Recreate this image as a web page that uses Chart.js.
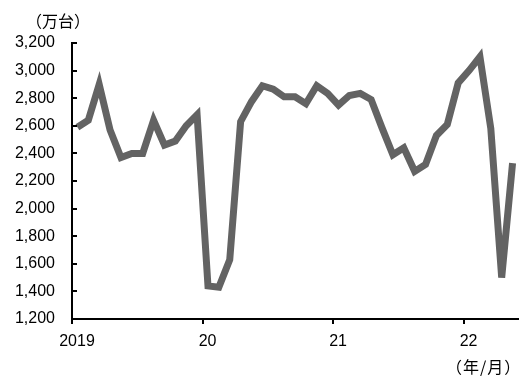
<!DOCTYPE html>
<html>
<head>
<meta charset="utf-8">
<script src="https://cdn.jsdelivr.net/npm/chart.js@4"></script>
<style>
  html, body { margin: 0; padding: 0; background: #fff; }
  #wrap { position: relative; width: 526px; height: 376px; }
  canvas { position: absolute; left: 0; top: 0; }
  .unit { position: absolute; font-family: "Noto Sans CJK JP", sans-serif; font-size: 16px; color: #000; line-height: 1; white-space: nowrap; }
</style>
</head>
<body>
<div id="wrap">
  <canvas id="c" width="526" height="376"></canvas>
  <div class="unit" style="left:26px; top:12px;">（万台）</div>
  <div class="unit" style="left:446px; top:358px; letter-spacing:1px;">（年/月）</div>
</div>
<script>
// Monthly series, Jan 2019 – May 2022
const months = [
  '2019/1','2019/2','2019/3','2019/4','2019/5','2019/6','2019/7','2019/8','2019/9','2019/10','2019/11','2019/12',
  '2020/1','2020/2','2020/3','2020/4','2020/5','2020/6','2020/7','2020/8','2020/9','2020/10','2020/11','2020/12',
  '2021/1','2021/2','2021/3','2021/4','2021/5','2021/6','2021/7','2021/8','2021/9','2021/10','2021/11','2021/12',
  '2022/1','2022/2','2022/3','2022/4','2022/5'
];
const units = [
  2590, 2640, 2900, 2570, 2370, 2400, 2400, 2640, 2460, 2490, 2600, 2680,
  1440, 1430, 1630, 2630, 2775, 2890, 2865, 2810, 2810, 2760, 2890, 2835,
  2750, 2820, 2835, 2790, 2585, 2390, 2440, 2270, 2320, 2530, 2610, 2910,
  3000, 3100, 2580, 1500, 2330
];
// Year labels placed at the start of each year (month index)
const yearTickIndex = [0, 12, 24, 36];
const yearTickLabels = ['2019', '20', '21', '22'];
// Value axis
const yMin = 1200, yMax = 3200, yStep = 200;

const points = units.map((v, i) => ({ x: i + 0.5, y: v }));

// Short tick marks pointing into the plot from the value axis
const innerTicks = {
  id: 'innerTicks',
  afterDatasetsDraw(chart) {
    const ys = chart.scales.y;
    const ctx = chart.ctx;
    ctx.save();
    ctx.strokeStyle = '#000';
    ctx.lineWidth = 2;
    ctx.beginPath();
    for (let v = yMin; v <= yMax; v += yStep) {
      const py = Math.round(ys.getPixelForValue(v));
      ctx.moveTo(chart.chartArea.left, py);
      ctx.lineTo(chart.chartArea.left + 5, py);
    }
    ctx.stroke();
    ctx.restore();
  }
};

new Chart(document.getElementById('c'), {
  type: 'line',
  data: {
    labels: months,
    datasets: [{
      data: points,
      borderColor: '#636363',
      borderWidth: 7,
      pointRadius: 0,
      tension: 0,
      fill: false,
      clip: false
    }]
  },
  options: {
    responsive: false,
    animation: false,
    devicePixelRatio: 1,
    layout: { padding: { left: 0, right: 8, top: 43, bottom: 0 } },
    plugins: { legend: { display: false }, tooltip: { enabled: false } },
    scales: {
      x: {
        type: 'linear',
        min: 0,
        max: months.length,
        afterBuildTicks(scale) {
          scale.ticks = yearTickIndex.map(v => ({ value: v }));
        },
        afterFit(scale) { scale.height = 57; },
        ticks: {
          color: '#000',
          font: { family: 'Liberation Sans, Arial, sans-serif', size: 16 },
          padding: 8,
          labelOffset: 5,
          maxRotation: 0,
          autoSkip: false,
          callback(value) {
            const k = yearTickIndex.indexOf(value);
            return k >= 0 ? yearTickLabels[k] : '';
          }
        },
        grid: { drawOnChartArea: false, drawTicks: true, tickLength: 5, color: '#000', lineWidth: 2 },
        border: { display: true, color: '#000', width: 2 }
      },
      y: {
        min: yMin,
        max: yMax,
        afterFit(scale) { scale.width = 72; },
        ticks: {
          stepSize: yStep,
          color: '#000',
          font: { family: 'Liberation Sans, Arial, sans-serif', size: 16 },
          padding: 17,
          callback(value) { return value.toLocaleString('en-US'); }
        },
        grid: { drawOnChartArea: false, drawTicks: false },
        border: { display: true, color: '#000', width: 2 }
      }
    }
  },
  plugins: [innerTicks]
});
</script>
</body>
</html>
